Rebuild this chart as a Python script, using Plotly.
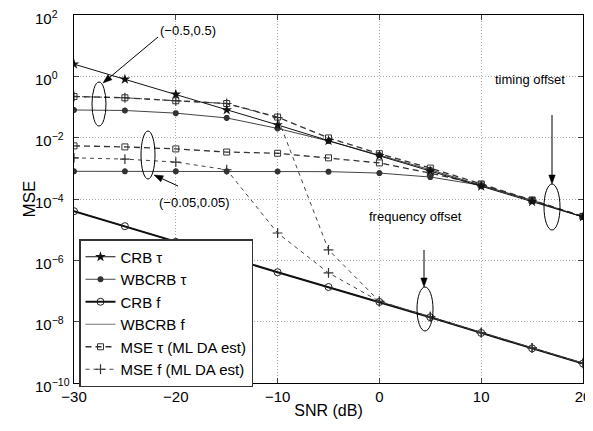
import math
import plotly.graph_objects as go

snr = [-30, -25, -20, -15, -10, -5, 0, 5, 10, 15, 20]

crb_tau = [2.5, 0.8, 0.26, 0.08, 0.026, 0.008, 0.0026, 8e-4, 2.6e-4, 8.2e-5, 2.6e-5]
wbcrb_tau_wide = [0.08, 0.077, 0.063, 0.044, 0.02, 0.0078, 0.0027, 9e-4, 2.8e-4, 9e-5, 2.6e-5]
wbcrb_tau_narrow = [8e-4, 8e-4, 8e-4, 8e-4, 7.9e-4, 7.8e-4, 7e-4, 5.2e-4, 2.8e-4, 9e-5, 2.6e-5]
crb_f = [4e-5, 1.3e-5, 4e-6, 1.3e-6, 4.1e-7, 1.35e-7, 4.4e-8, 1.4e-8, 4.3e-9, 1.35e-9, 4.3e-10]
wbcrb_f_wide = [4e-5, 1.3e-5, 4e-6, 1.3e-6, 4.1e-7, 1.35e-7, 4.4e-8, 1.4e-8, 4.3e-9, 1.35e-9, 4.3e-10]
wbcrb_f_narrow = [4e-5, 1.3e-5, 4e-6, 1.3e-6, 4.1e-7, 1.35e-7, 4.4e-8, 1.4e-8, 4.3e-9, 1.35e-9, 4.3e-10]
mse_tau_wide = [0.22, 0.2, 0.16, 0.13, 0.047, 0.0098, 0.003, 1.02e-3, 3.1e-4, 9.3e-5, 2.7e-5]
mse_tau_narrow = [5.4e-3, 5e-3, 4.3e-3, 3.4e-3, 3.1e-3, 2.2e-3, 1.5e-3, 7e-4, 2.9e-4, 9e-5, 2.7e-5]
mse_f_wide = [0.22, 0.2, 0.16, 0.13, 0.045, 2.2e-6, 4.6e-8, 1.45e-8, 4.4e-9, 1.4e-9, 4.4e-10]
mse_f_narrow = [2.2e-3, 2e-3, 1.6e-3, 9e-4, 7.8e-6, 3.9e-7, 4.6e-8, 1.45e-8, 4.4e-9, 1.4e-9, 4.4e-10]

y_ticks = [1e-10, 1e-8, 1e-6, 1e-4, 1e-2, 1, 1e2]
y_tick_text = ["10<sup>−10</sup>", "10<sup>−8</sup>", "10<sup>−6</sup>", "10<sup>−4</sup>",
               "10<sup>−2</sup>", "10<sup>0</sup>", "10<sup>2</sup>"]
x_ticks = [-30, -20, -10, 0, 10, 20]
x_tick_text = ["−30", "−20", "−10", "0", "10", "20"]

FONT = "Liberation Sans, Arial, Helvetica, sans-serif"

fig = go.Figure()

def add(y, name, color, width, dash, symbol, msize, mcolor, mline, show, order):
    fig.add_trace(go.Scatter(
        x=snr, y=y, name=name, mode="lines+markers" if symbol else "lines",
        line=dict(color=color, width=width, dash=dash),
        marker=dict(symbol=symbol or "circle", size=msize, color=mcolor,
                    line=dict(color=mcolor, width=mline)),
        showlegend=show, legendrank=order,
    ))

add(wbcrb_f_wide, "WBCRB f", "#777777", 1, "solid", None, 0, "#777777", 1, True, 4)
add(wbcrb_f_narrow, "WBCRB f", "#777777", 1, "solid", None, 0, "#777777", 1, False, 4)
add(crb_f, "CRB f", "#111111", 2, "solid", "circle-open", 7, "#222222", 1, True, 3)
add(mse_f_wide, "MSE f (ML DA est)", "#444444", 1, "4px,4px", "cross-thin-open", 7, "#333333", 1.2, True, 6)
add(mse_f_narrow, "MSE f (ML DA est)", "#444444", 1, "4px,4px", "cross-thin-open", 7, "#333333", 1.2, False, 6)
add(wbcrb_tau_wide, "WBCRB τ", "#444444", 1, "solid", "asterisk-open", 5, "#333333", 2, True, 2)
add(wbcrb_tau_narrow, "WBCRB τ", "#444444", 1, "solid", "asterisk-open", 5, "#333333", 2, False, 2)
add(mse_tau_wide, "MSE τ (ML DA est)", "#333333", 1.3, "6px,4px", "square-open", 6, "#333333", 1, True, 5)
add(mse_tau_narrow, "MSE τ (ML DA est)", "#333333", 1.3, "6px,4px", "square-open", 6, "#333333", 1, False, 5)
add(crb_tau, "CRB τ", "#111111", 1, "solid", "star", 8, "#111111", 0, True, 1)

# The page body has an 8px margin; size the figure so that it ends at the window edge.
OFF = 8
FIG_W, FIG_H = 593 - OFF, 431 - 2 * OFF
# plot area in window pixels
L, R, T, B = 74, 583, 15, 383
W, H = R - L, B - T

def px(x):
    return (x - L) / W

def py(y):
    return 1 - (y - T) / H

shapes = []
for (cx, cy, rx, ry) in [(99, 104, 7, 22), (148, 155, 7, 24), (552, 207, 8, 23), (425, 309, 8, 22)]:
    shapes.append(dict(type="circle", xref="paper", yref="paper",
                       x0=px(cx - rx), x1=px(cx + rx), y0=py(cy + ry), y1=py(cy - ry),
                       line=dict(color="black", width=1)))

for (hx, hy, tx, ty) in [(103, 83, 158, 37), (154, 175, 178, 186), (552, 184, 552, 115), (424, 287, 424, 250)]:
    dx, dy = hx - tx, hy - ty
    d = math.hypot(dx, dy)
    ux, uy = dx / d, dy / d
    hl, hw = 9, 3.2
    bx, by = hx - ux * hl, hy - uy * hl
    p1 = (bx - uy * hw, by + ux * hw)
    p2 = (bx + uy * hw, by - ux * hw)
    shapes.append(dict(type="line", xref="paper", yref="paper",
                       x0=px(tx), y0=py(ty), x1=px(bx), y1=py(by),
                       line=dict(color="black", width=1)))
    path = "M {} {} L {} {} L {} {} Z".format(px(hx), py(hy), px(p1[0]), py(p1[1]), px(p2[0]), py(p2[1]))
    shapes.append(dict(type="path", xref="paper", yref="paper", path=path,
                       fillcolor="black", line=dict(color="black", width=0.5)))

annotations = []
for (cx, cy, t) in [(188, 31, "(−0.5,0.5)"), (194, 202, "(−0.05,0.05)"),
                    (530, 80, "timing offset"), (415, 216, "frequency offset")]:
    annotations.append(dict(xref="paper", yref="paper", x=px(cx), y=py(cy), text=t,
                            showarrow=False, xanchor="center", yanchor="middle",
                            font=dict(family=FONT, size=13, color="black")))

for v, t in zip(y_ticks, y_tick_text):
    annotations.append(dict(xref="paper", yref="y", x=px(33), y=math.log10(v), text=t,
                            showarrow=False, xanchor="left", yanchor="middle", yshift=-2,
                            font=dict(family=FONT, size=15, color="black")))

fig.update_layout(
    width=FIG_W, height=FIG_H,
    margin=dict(l=L - OFF, r=FIG_W - (R - OFF), t=T - OFF, b=FIG_H - (B - OFF)),
    paper_bgcolor="white", plot_bgcolor="white",
    font=dict(family=FONT, size=15, color="black"),
    showlegend=True,
    legend=dict(x=px(79), y=py(239), xanchor="left", yanchor="top",
                bgcolor="white", bordercolor="#333333", borderwidth=1.5,
                font=dict(family=FONT, size=15, color="black"),
                tracegroupgap=0, itemwidth=30),
    shapes=shapes,
    annotations=annotations,
    xaxis=dict(range=[-30, 20], tickvals=x_ticks, ticktext=x_tick_text,
               ticks="inside", ticklen=5, automargin=False, ticklabeloverflow="allow",
               mirror="allticks", showline=True, linecolor="black", linewidth=1,
               showgrid=True, gridcolor="#aaaaaa", griddash="1px,2px", gridwidth=1,
               zeroline=False, tickfont=dict(size=15),
               title=dict(text="SNR (dB)", font=dict(size=16), standoff=0)),
    yaxis=dict(type="log", range=[-10, 2], tickvals=y_ticks, showticklabels=False,
               ticks="inside", ticklen=5, mirror="allticks", showline=True, automargin=False,
               linecolor="black", linewidth=1,
               showgrid=True, gridcolor="#aaaaaa", griddash="1px,2px", gridwidth=1,
               zeroline=False,
               title=dict(text="MSE", font=dict(size=17), standoff=33)),
)

fig.write_html("out.html")
